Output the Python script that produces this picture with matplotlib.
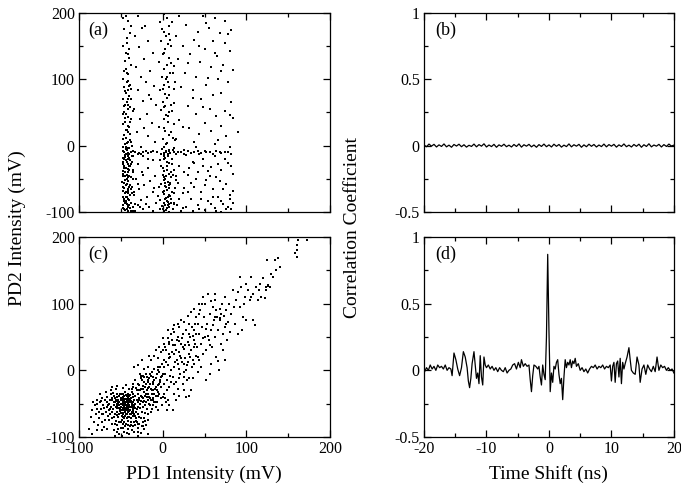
import numpy as np
import matplotlib
matplotlib.use("Agg")
import matplotlib.pyplot as plt
from matplotlib.ticker import MultipleLocator, FormatStrFormatter

plt.rcParams['font.family'] = ['Liberation Serif', 'DejaVu Serif']
plt.rcParams['axes.unicode_minus'] = False

# (a) PD1 vs PD2, no time shift
pts_a = [
    # dense column near -42 mV
    (-44,195),(-41,188),(-46,176),(-39,170),(-43,162),(-47,150),(-40,146),(-42,138),(-45,128),(-38,122),
    (-44,115),(-41,108),(-47,101),(-43,96),(-39,92),(-46,88),(-42,84),(-44,79),(-40,75),(-48,71),
    (-43,66),(-45,62),(-39,58),(-41,55),(-46,51),(-44,47),(-42,43),(-38,40),(-45,36),(-47,32),
    (-40,28),(-43,24),(-41,20),(-46,16),(-44,12),(-39,8),(-42,5),(-45,2),(-47,-2),(-41,-4),
    (-43,-7),(-38,-9),(-46,-10),(-44,-12),(-40,-13),(-42,-15),(-45,-17),(-48,-19),(-39,-21),(-43,-24),
    (-41,-27),(-46,-30),(-44,-33),(-40,-36),(-42,-39),(-47,-42),(-45,-45),(-38,-48),(-43,-51),(-41,-54),
    (-46,-57),(-44,-60),(-40,-63),(-42,-66),(-48,-69),(-45,-72),(-39,-75),(-43,-78),(-41,-81),(-46,-84),
    (-44,-87),(-40,-89),(-42,-92),(-47,-94),(-45,-97),(-38,-99),(-43,-96),(-41,-90),(-46,-80),(-44,-70),
    (-37,-62),(-49,-55),(-42,-48),(-36,-40),(-47,-25),(-40,-18),(-44,-5),(-37,0),(-48,10),(-42,30),
    (-36,52),(-45,82),(-41,97),(-44,140),(-38,180),(-47,192),(-42,-100),(-39,-94),(-45,-86),(-48,-77),
    (-37,-72),(-43,-58),(-40,-46),(-46,-34),(-38,-28),(-44,-22),(-41,-11),(-47,-8),(-43,4),(-39,18),
    (-45,42),(-42,70),(-38,86),(-46,112),(-40,132),(-43,155),(-41,-98),(-44,-83),(-38,-66),(-46,-64),
    (-42,-53),(-48,-38),(-40,-31),(-45,-14),(-37,-15),(-43,-12),(-47,48),(-41,62),(-39,35),
    (-48,-90),(-46,-95),(-44,-78),(-42,-72),(-40,-82),(-38,-86),(-36,-92),(-47,-62),(-45,-52),(-43,-44),
    (-41,-35),(-39,-30),(-37,-24),(-35,-16),(-48,-28),(-46,-20),(-44,-2),(-42,-20),(-40,-4),(-38,6),
    (-36,-50),(-34,-70),(-33,-88),(-35,-98),(-47,-45),(-43,-88),(-39,-60),(-41,-68),(-45,-40),(-44,24),
    (-42,55),(-40,90),(-46,60),(-38,70),(-43,110),
    # second column near 5 mV
    (2,198),(5,192),(-3,186),(8,180),(1,172),(4,166),(-2,158),(6,154),(10,150),(3,145),
    (0,138),(7,132),(-4,126),(5,121),(2,116),(9,110),(-1,104),(4,100),(6,96),(1,92),
    (8,88),(-3,84),(3,78),(5,72),(0,66),(10,62),(2,58),(-2,54),(7,50),(4,46),
    (1,40),(6,35),(-4,28),(3,22),(8,16),(0,10),(5,4),(2,-2),(-1,-5),(7,-8),
    (4,-10),(9,-11),(1,-13),(6,-15),(3,-18),(-3,-22),(8,-26),(5,-30),(0,-34),(2,-38),
    (7,-42),(4,-45),(10,-48),(1,-52),(6,-55),(-2,-58),(3,-61),(8,-64),(5,-67),(0,-70),
    (2,-73),(9,-76),(4,-79),(-3,-82),(6,-85),(1,-87),(3,-90),(8,-92),(5,-94),(0,-96),
    (2,-98),(7,-100),(4,-97),(-1,-91),(10,-86),(6,-78),(2,-68),(-4,-62),(9,-56),(3,-50),
    (0,-44),(5,-36),(11,-28),(2,-20),(-2,-12),(7,-6),(4,2),(12,12),(1,26),(6,44),
    (3,60),(8,76),(0,86),(5,104),(10,124),(2,140),(7,168),(-1,176),(4,-8),(1,-11),
    (6,-12),(3,-57),(8,-88),(-3,-96),(11,-70),(5,-84),
    (12,-95),(14,-88),(10,-80),(13,-72),(15,-64),(9,-58),(12,-44),(14,-36),(11,-20),(13,-4),
    (15,8),(10,20),(14,32),(11,52),(13,86),(15,96),(12,110),(14,120),(9,160),(11,186),
    (6,-90),(3,-80),(8,-60),(2,-48),(5,-24),(1,-16),(-2,-30),(7,-74),(4,-62),(10,-40),
    (16,-52),(17,-90),
    # sparse between the columns
    (-30,195),(-25,178),(-33,165),(-18,158),(-28,148),(-12,140),(-22,130),(-32,118),(-15,112),(-26,104),
    (-20,96),(-10,90),(-30,84),(-16,76),(-24,68),(-8,62),(-34,56),(-19,48),(-27,40),(-13,34),
    (-22,26),(-31,20),(-17,14),(-9,6),(-26,-2),(-20,-8),(-33,-10),(-14,-10),(-28,-11),(-7,-9),
    (-23,-16),(-11,-22),(-30,-28),(-18,-34),(-25,-40),(-9,-46),(-32,-50),(-15,-54),(-22,-60),(-28,-66),
    (-12,-70),(-34,-74),(-19,-78),(-26,-82),(-8,-86),(-30,-90),(-16,-93),(-23,-96),(-33,-99),(-12,-98),
    (-27,-92),(-20,-88),(-6,-76),(-29,-58),(-24,-44),(-17,-20),(-35,-36),(-10,-64),(-21,180),(-14,70),
    (-30,-12),(-24,-9),(-18,-11),(-12,-8),(-35,-8),(-26,-13),
    # sparse right part
    (20,196),(35,200),(48,195),(62,192),(75,188),(28,182),(55,178),(42,172),(68,170),(82,174),
    (16,165),(38,160),(60,158),(74,155),(24,150),(50,146),(80,142),(33,138),(65,135),(18,130),
    (45,126),(72,122),(58,118),(84,114),(27,110),(40,104),(66,100),(78,96),(52,92),(22,88),
    (36,84),(70,80),(60,76),(46,70),(82,66),(14,64),(30,60),(56,56),(74,52),(40,48),
    (64,44),(84,42),(20,38),(50,34),(70,30),(32,26),(58,22),(44,18),(90,20),(76,14),
    (16,10),(38,6),(62,2),(80,-2),(26,-6),(50,-8),(68,-10),(18,-10),(34,-11),(44,-12),
    (56,-10),(74,-9),(82,-12),(28,-14),(62,-16),(48,-20),(36,-24),(78,-26),(20,-30),(58,-32),
    (70,-36),(42,-40),(84,-42),(30,-44),(64,-48),(52,-52),(18,-56),(76,-58),(38,-62),(60,-66),
    (46,-70),(24,-72),(80,-74),(66,-78),(34,-80),(54,-84),(14,-86),(72,-88),(42,-90),(28,-92),
    (62,-94),(82,-96),(50,-97),(36,-99),(70,-100),(22,-98),(78,-92),(58,-88),(46,-80),(84,-68),
    (26,-64),(68,-54),(16,-46),(54,-38),(32,-34),(74,-20),(40,-2),(66,8),(24,28),(80,46),
    (48,58),(36,72),(54,102),(70,112),(30,124),(62,140),(44,150),(78,168),(52,185),
    (14,-10),(16,-12),(22,-9),(30,-8),(38,-10),(46,-11),(52,-9),(60,-12),(64,-8),(70,-11),
    (78,-10),(12,-7),(26,-12),(42,-8),
    (20,-80),(30,-70),(40,-50),(50,-60),(60,-78),(70,-84),(80,-80),(24,-94),(44,-96),(64,-98),
    (76,-96),(34,-56),(56,-46),(72,-66),(84,-86),(48,-30),(66,-28),(82,-30),(26,-40),(38,-26),
]

# (c) PD1 vs shifted PD2
pts_c = [
    (-50,-45),(-45,-50),(-40,-55),(-55,-40),(-48,-60),(-42,-42),(-38,-48),(-52,-52),(-46,-38),(-35,-58),
    (-58,-48),(-44,-65),(-36,-40),(-50,-35),(-40,-70),(-54,-62),(-47,-56),(-33,-50),(-43,-46),(-56,-55),
    (-49,-68),(-37,-62),(-45,-33),(-53,-44),(-41,-60),(-30,-55),(-60,-42),(-39,-37),(-51,-58),(-46,-72),
    (-34,-45),(-57,-66),(-44,-52),(-42,-36),(-48,-48),(-36,-68),(-52,-38),(-40,-44),(-55,-50),(-38,-55),
    (-47,-42),(-32,-62),(-43,-58),(-50,-64),(-45,-47),(-59,-58),(-37,-33),(-41,-50),(-53,-70),(-35,-52),
    (-48,-40),(-44,-60),(-39,-66),(-56,-45),(-46,-53),(-31,-44),(-42,-70),(-50,-50),(-38,-42),(-54,-57),
    (-47,-64),(-36,-57),(-43,-39),(-49,-74),(-40,-61),(-52,-47),(-34,-66),(-45,-56),(-58,-52),(-41,-45),
    (-37,-50),(-55,-35),(-48,-52),(-44,-43),(-33,-38),(-51,-61),(-46,-46),(-39,-59),(-57,-42),(-42,-63),
    (-35,-47),(-50,-55),(-45,-68),(-40,-38),(-53,-49),(-38,-65),(-47,-35),(-43,-53),(-36,-61),(-49,-44),
    (-60,-62),(-41,-56),(-34,-54),(-55,-67),(-46,-60),(-38,-46),(-52,-56),(-44,-48),(-31,-58),(-48,-66),
    (-40,-52),(-57,-48),(-43,-66),(-36,-36),(-50,-41),(-45,-62),(-39,-43),(-54,-53),(-42,-49),(-47,-70),
    (-35,-64),(-51,-36),(-44,-57),(-40,-48),(-58,-38),(-37,-54),(-46,-43),(-52,-65),(-41,-41),(-33,-57),
    (-49,-51),(-43,-72),(-55,-46),(-38,-71),(-47,-49),(-30,-48),(-44,-37),(-50,-59),(-36,-52),
    (-28,-70),(-25,-62),(-22,-72),(-19,-58),(-17,-66),(-27,-56),(-24,-48),(-20,-36),(-16,-50),(-29,-80),
    (-23,-84),(-18,-74),(-26,-38),(-21,-64),(-15,-42),(-14,-62),(-12,-52),(-10,-48),(-13,-30),(-8,-55),
    (-30,-66),(-32,-72),(-28,-42),(-25,-28),(-22,-46),(-64,-50),(-62,-30),(-60,-25),(-58,-70),(-56,-28),
    (-63,-58),(-61,-44),(-57,-80),(-59,-34),(-54,-24),(-52,-78),(-48,-26),(-44,-22),(-40,-28),(-36,-20),
    (-32,-26),(-34,-78),(-38,-82),(-46,-78),(-50,-86),(-54,-92),(-42,-82),(-30,-92),(-26,-72),(-33,-68),
    # left tail
    (-88,-88),(-85,-95),(-82,-78),(-80,-65),(-78,-50),(-76,-72),(-74,-58),(-72,-42),(-70,-85),(-68,-62),
    (-66,-48),(-64,-75),(-62,-55),(-86,-70),(-84,-60),(-79,-45),(-77,-82),(-75,-36),(-73,-66),(-71,-52),
    (-69,-75),(-67,-40),(-65,-68),(-63,-45),(-61,-80),(-81,-52),(-78,-90),(-74,-46),(-70,-56),(-66,-88),
    (-62,-36),(-72,-78),(-68,-32),(-64,-60),(-76,-62),(-83,-48),(-60,-72),(-67,-55),(-71,-65),(-79,-58),
    (-65,-52),(-73,-90),(-69,-44),(-63,-66),(-75,-48),
    # bottom edge
    (-58,-90),(-55,-82),(-52,-95),(-50,-78),(-48,-86),(-46,-92),(-44,-80),(-42,-88),(-40,-96),(-38,-78),
    (-36,-84),(-34,-92),(-32,-76),(-30,-86),(-28,-80),(-26,-94),(-24,-78),(-22,-88),(-20,-82),(-18,-96),
    (-56,-76),(-53,-88),(-49,-98),(-45,-84),(-41,-76),(-37,-90),(-33,-82),(-29,-98),(-25,-84),(-21,-76),
    (-57,-98),(-47,-80),(-39,-84),(-31,-78),(-43,-94),
    # lower middle
    (-29,-35),(-28,-22),(-27,-50),(-26,-12),(-25,-40),(-24,-28),(-23,-55),(-22,-18),(-21,-38),(-20,-5),
    (-19,-30),(-18,-45),(-17,-15),(-16,-25),(-15,-52),(-14,-8),(-13,-35),(-12,-20),(-11,-42),(-10,2),
    (-9,-28),(-8,-12),(-7,-48),(-6,-22),(-5,5),(-4,-35),(-3,-15),(-2,-25),(-1,10),(0,-40),
    (-29,-20),(-27,-30),(-25,-15),(-23,-42),(-21,-25),(-19,-10),(-17,-35),(-15,-20),(-13,-2),(-11,-30),
    (-9,-48),(-7,-5),(-5,-32),(-3,-18),(-1,-8),(-28,-44),(-26,-28),(-24,-8),(-22,-32),(-20,-48),
    (-18,-18),(-16,-40),(-14,-28),(-12,-10),(-10,-35),(-8,-25),(-6,0),(-4,-20),(-2,-42),(0,-5),
    (-30,-30),(-26,-46),(-22,-10),(-18,-26),(-14,-44),(-10,-15),(-6,-38),(-2,-10),(-27,-5),(-23,-24),
    (-19,-40),(-15,-5),(-11,-18),(-7,-30),(-3,5),(-25,15),(-20,-20),(-16,-12),(-12,-45),(-8,-38),
    (-4,-2),(-30,8),(-21,-52),(-13,-58),(-5,-60),(-35,-25),(-33,-15),(-31,-30),(-37,-28),(-34,5),
    (-6,18),(-2,28),(-10,22),(-4,35),(-8,30),(-14,15),(-18,5),(-22,2),(-26,-8),(-16,22),(-1,-52),
    # middle
    (1,-20),(2,15),(3,-5),(4,30),(5,-15),(6,8),(7,40),(8,-25),(9,20),(10,0),
    (11,45),(12,-10),(13,25),(14,5),(15,38),(16,-18),(17,15),(18,50),(19,2),(20,28),
    (21,-5),(22,40),(23,12),(24,55),(25,-2),(26,32),(27,18),(28,60),(29,8),(30,42),
    (31,25),(32,-12),(33,50),(34,30),(35,65),(36,15),(37,45),(38,35),(39,70),(40,22),
    (1,5),(3,35),(5,-30),(7,18),(9,-8),(11,28),(13,-20),(15,12),(17,45),(19,-12),
    (21,22),(23,48),(25,10),(27,38),(29,-15),(31,55),(33,20),(35,5),(37,60),(39,40),
    (2,-35),(4,12),(6,48),(8,25),(10,-18),(12,38),(14,58),(16,30),(18,-28),(20,65),
    (22,18),(24,35),(26,72),(28,0),(30,12),(32,38),(34,-30),(36,52),(38,10),(40,55),
    (12,-60),(5,-60),(31,-38),(0,30),(18,10),(24,-20),(14,-35),(28,-40),(6,-45),(20,44),
    (2,40),(4,-48),(8,-52),(10,55),(14,68),(0,48),(6,60),(16,-45),(20,-38),(26,-30),
    (22,75),(18,70),(30,82),(26,-10),(34,88),(38,92),(36,-12),(12,62),(8,42),(3,-42),(32,70),
    # upper middle
    (41,35),(42,70),(43,15),(44,55),(45,90),(46,40),(47,65),(48,25),(49,80),(50,50),
    (51,100),(52,30),(53,70),(54,115),(55,45),(56,-6),(57,85),(58,60),(59,35),(60,95),
    (61,75),(62,50),(63,105),(64,20),(65,80),(66,60),(67,0),(68,92),(69,75),(70,40),
    (71,100),(72,55),(73,82),(74,65),(75,110),(76,90),(77,45),(78,72),(79,100),(80,58),
    (44,85),(48,48),(52,62),(56,38),(60,68),(64,90),(68,78),(72,30),(76,70),(66,14),
    (58,104),(62,80),(70,85),(74,15),(47,100),(54,52),(42,20),
    (42,-2),(46,5),(44,100),(48,110),(52,-15),(58,10),(62,115),(40,80),
    # upper
    (82,85),(84,120),(86,70),(88,105),(90,55),(92,95),(94,125),(96,80),(98,110),(100,130),
    (102,120),(104,105),(106,140),(108,115),(110,68),(112,125),(114,105),(116,130),(118,110),(120,138),
    (122,108),(124,120),(126,128),(128,125),(130,145),(132,140),(134,165),(136,150),(138,168),(140,155),
    (90,118),(95,60),(100,75),(85,95),(93,140),(105,110),(115,120),(125,165),(108,75),(97,100),
    (160,170),(160,180),(161,188),(162,195),(160,200),(172,196),(158,176),(126,127),(124,125),
]

# (b) correlation without shift: tiny ripple around zero
corr_b = [0.005,-0.008,0.012,-0.004,0.010,-0.010,0.006,-0.006,0.013,-0.009,0.004,-0.012,0.009,-0.003,
          0.011,-0.008,0.007,-0.011,0.003,-0.006,0.012,-0.009,0.008,-0.004,0.014,-0.010,0.005,-0.007,
          0.010,-0.012,0.006,-0.005,0.011,-0.008,0.004,-0.010,0.009,-0.006,0.013,-0.011,0.007,-0.004,
          0.010,-0.009,0.005,-0.012,0.008,-0.006,0.012,-0.008,0.006,-0.010,0.011,-0.005,0.009,-0.011,
          0.004,-0.007,0.013,-0.009,0.007,-0.004,0.010,-0.012,0.006,-0.008,0.011,-0.005,0.009,-0.010,
          0.005,-0.007,0.012,-0.009,0.008,-0.004,0.010,-0.011,0.006,-0.006,0.013,-0.008,0.004,-0.010,
          0.009,-0.005,0.011,-0.012,0.007,-0.006,0.014,-0.009,0.005,-0.004,0.010,-0.010,0.008,-0.006,
          0.012,-0.003,0.004]

# (d) correlation with shift
shift_d = [-20.0,-19.6,-19.3,-19.0,-18.7,-18.4,-18.1,-17.8,-17.5,-17.2,-16.9,-16.6,-16.3,-16.0,-15.7,
           -15.5,-15.2,-14.9,-14.6,-14.3,-14.0,-13.7,-13.4,-13.1,-12.9,-12.7,-12.5,-12.3,-12.0,-11.8,
           -11.6,-11.4,-11.2,-11.0,-10.8,-10.6,-10.4,-10.2,-10.0,-9.7,-9.4,-9.1,-8.8,-8.5,-8.2,-7.9,
           -7.6,-7.3,-7.0,-6.7,-6.4,-6.1,-5.8,-5.5,-5.2,-4.9,-4.6,-4.4,-4.1,-3.8,-3.5,-3.2,-3.0,-2.8,
           -2.6,-2.4,-2.1,-1.8,-1.6,-1.4,-1.2,-1.0,-0.8,-0.6,-0.4,-0.2,0.0,0.2,0.4,0.6,0.8,1.0,1.2,
           1.4,1.6,1.8,2.0,2.2,2.4,2.6,2.8,3.0,3.2,3.4,3.6,3.8,4.0,4.2,4.4,4.7,5.0,5.3,5.6,5.9,6.2,
           6.5,6.8,7.1,7.4,7.7,8.0,8.3,8.6,8.9,9.2,9.5,9.8,10.0,10.2,10.4,10.6,10.8,11.0,11.2,11.4,
           11.6,11.8,12.0,12.2,12.5,12.8,13.0,13.2,13.5,13.8,14.1,14.4,14.6,14.9,15.2,15.5,15.8,16.1,
           16.4,16.7,17.0,17.3,17.6,17.9,18.2,18.5,18.8,19.1,19.4,19.7,20.0]
corr_d = [-0.02,0.02,0.00,0.04,0.01,0.03,0.00,0.04,0.02,0.03,0.01,0.04,0.00,0.02,0.01,
          -0.04,0.13,0.08,0.01,-0.04,0.02,0.14,0.10,0.02,-0.08,-0.13,-0.06,0.05,0.14,0.04,
          -0.06,-0.02,-0.10,0.11,-0.05,-0.11,0.10,0.04,0.02,0.04,0.01,0.03,0.00,0.02,-0.01,0.02,
          0.00,-0.01,0.02,-0.02,0.00,0.01,0.04,0.05,0.01,0.06,0.02,0.08,0.03,0.05,0.03,0.04,-0.07,-0.16,
          -0.04,0.04,0.03,0.01,0.03,-0.05,-0.11,0.04,-0.03,-0.07,0.25,0.87,0.30,-0.16,-0.02,-0.09,0.03,0.01,0.06,
          0.08,-0.03,-0.10,-0.06,-0.22,-0.05,0.08,0.02,0.06,0.04,0.08,0.02,0.07,0.05,0.09,0.03,0.05,0.00,0.02,-0.01,0.01,-0.02,
          0.01,0.03,0.02,0.04,0.01,0.03,0.02,0.04,0.01,0.03,0.02,0.04,-0.08,0.03,0.06,-0.09,0.05,0.07,-0.05,0.09,
          -0.10,0.06,0.01,0.05,0.10,0.17,0.08,0.00,-0.02,-0.03,0.10,0.04,-0.09,0.01,0.04,-0.03,0.04,0.01,
          -0.01,0.03,-0.01,0.10,0.00,0.04,0.02,0.03,0.00,0.02,0.00,0.01,-0.02]

fig = plt.figure(figsize=(6.81, 4.87), dpi=100)
ax_a = fig.add_axes([0.116, 0.5647, 0.3686, 0.4086])
ax_b = fig.add_axes([0.6226, 0.5647, 0.367, 0.4086])
ax_c = fig.add_axes([0.116, 0.1027, 0.3686, 0.4106])
ax_d = fig.add_axes([0.6226, 0.1027, 0.367, 0.4106])


def style(ax, show_x):
    ax.tick_params(which='both', direction='in', top=True, right=True, labelsize=11.5, pad=3)
    ax.tick_params(which='major', length=5, width=0.9)
    ax.tick_params(which='minor', length=3, width=0.9)
    for s in ax.spines.values():
        s.set_linewidth(0.9)
    if not show_x:
        ax.tick_params(labelbottom=False)


for ax, pts, lab in [(ax_a, pts_a, '(a)'), (ax_c, pts_c, '(c)')]:
    xy = np.array(pts)
    ax.scatter(xy[:, 0], xy[:, 1], s=2.4, c='black', marker='s', linewidths=0)
    ax.set_xlim(-100, 200)
    ax.set_ylim(-100, 200)
    ax.xaxis.set_major_locator(MultipleLocator(100))
    ax.xaxis.set_minor_locator(MultipleLocator(50))
    ax.yaxis.set_major_locator(MultipleLocator(100))
    ax.yaxis.set_minor_locator(MultipleLocator(50))
    ax.text(0.035, 0.955, lab, transform=ax.transAxes, fontsize=13, va='top', ha='left')

t_b = np.linspace(-20, 20, len(corr_b))
ax_b.plot(t_b, corr_b, color='black', lw=0.9)
ax_d.plot(shift_d, corr_d, color='black', lw=0.9)
for ax, lab in [(ax_b, '(b)'), (ax_d, '(d)')]:
    ax.set_xlim(-20, 20)
    ax.set_ylim(-0.5, 1)
    ax.xaxis.set_major_locator(MultipleLocator(10))
    ax.xaxis.set_minor_locator(MultipleLocator(5))
    ax.yaxis.set_major_locator(MultipleLocator(0.5))
    ax.yaxis.set_minor_locator(MultipleLocator(0.25))
    ax.yaxis.set_major_formatter(FormatStrFormatter('%g'))
    ax.text(0.045, 0.955, lab, transform=ax.transAxes, fontsize=13, va='top', ha='left')

style(ax_a, False)
style(ax_b, False)
style(ax_c, True)
style(ax_d, True)

fig.text(0.026, 0.532, 'PD2 Intensity (mV)', rotation=90, va='center', ha='center', fontsize=14)
fig.text(0.518, 0.532, 'Correlation Coefficient', rotation=90, va='center', ha='center', fontsize=14)
fig.text(0.300, 0.027, 'PD1 Intensity (mV)', va='center', ha='center', fontsize=14)
fig.text(0.806, 0.027, 'Time Shift (ns)', va='center', ha='center', fontsize=14)

fig.savefig('out.png', dpi=100)
